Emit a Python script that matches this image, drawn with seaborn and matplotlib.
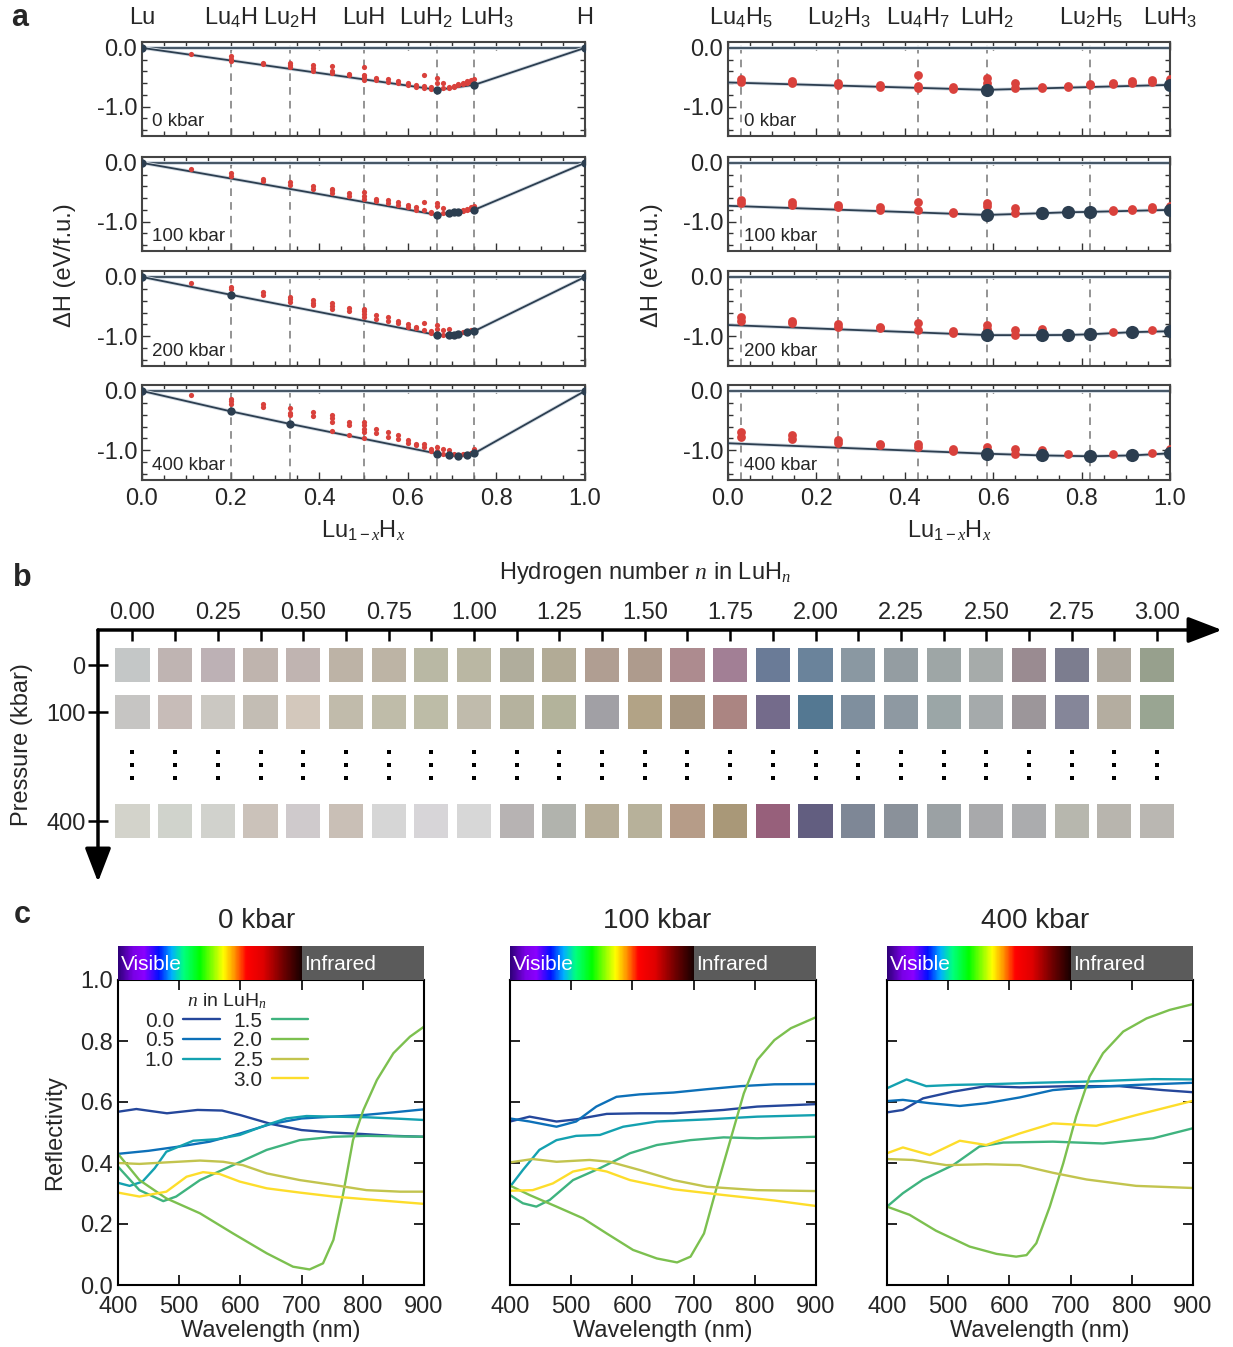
import numpy as np
import pandas as pd
import matplotlib
matplotlib.use("Agg")
import matplotlib.pyplot as plt
import seaborn as sns
from matplotlib.colors import LinearSegmentedColormap
from matplotlib.lines import Line2D

W, H = 1233, 1347
sns.set_theme(style="ticks")
plt.rcParams['font.family'] = ['Liberation Sans', 'DejaVu Sans']
plt.rcParams['mathtext.fontset'] = 'custom'
plt.rcParams['mathtext.rm'] = 'Liberation Sans'
plt.rcParams['mathtext.it'] = 'Liberation Serif:italic'
plt.rcParams['mathtext.bf'] = 'Liberation Sans:bold'
plt.rcParams['axes.unicode_minus'] = False

# ---------------- panel a data ----------------
pressures_a = ["0 kbar", "100 kbar", "200 kbar", "400 kbar"]
left_phase_x = [0.0, 0.2, 0.333, 0.5, 0.642, 0.779, 1.0]
left_phase_lab = ["Lu", "Lu$_4$H", "Lu$_2$H", "LuH", "LuH$_2$", "LuH$_3$", "H"]
left_dash_x = [0.2, 0.333, 0.5, 0.667, 0.75]
right_phase_x = [0.556, 0.6, 0.636, 0.667, 0.714, 0.75]
right_phase_lab = ["Lu$_4$H$_5$", "Lu$_2$H$_3$", "Lu$_4$H$_7$", "LuH$_2$", "Lu$_2$H$_5$", "LuH$_3$"]
right_tick_labels = ["0.0", "0.2", "0.4", "0.6", "0.8", "1.0"]

hull_x_0 = [0, 0.667, 0.75, 1.0]
hull_dh_0 = [0, -0.714, -0.63, 0]
hull_x_100 = [0, 0.667, 0.692, 0.704, 0.714, 0.75, 1.0]
hull_dh_100 = [0, -0.886, -0.857, -0.84, -0.834, -0.80, 0]
hull_x_200 = [0, 0.2, 0.667, 0.692, 0.704, 0.714, 0.733, 0.75, 1.0]
hull_dh_200 = [0, -0.30, -0.98, -0.98, -0.977, -0.966, -0.93, -0.914, 0]
hull_x_400 = [0, 0.2, 0.333, 0.667, 0.692, 0.714, 0.733, 0.75, 1.0]
hull_dh_400 = [0, -0.343, -0.554, -1.057, -1.086, -1.10, -1.086, -1.051, 0]

red_x_0 = [0.111, 0.2, 0.2, 0.2, 0.273, 0.273, 0.333, 0.333, 0.333, 0.385, 0.385, 0.385,
           0.429, 0.429, 0.429, 0.467, 0.467, 0.5, 0.5, 0.5, 0.5, 0.529, 0.529, 0.556, 0.556,
           0.579, 0.579, 0.6, 0.6, 0.619, 0.619, 0.636, 0.636, 0.636, 0.652, 0.652, 0.667, 0.667,
           0.68, 0.68, 0.692, 0.692, 0.704, 0.704, 0.714, 0.714, 0.724, 0.724, 0.733, 0.733,
           0.742, 0.742, 0.75]
red_dh_0 = [-0.10, -0.14, -0.19, -0.22, -0.25, -0.27, -0.25, -0.29, -0.33, -0.29, -0.34, -0.40,
            -0.30, -0.39, -0.43, -0.44, -0.46, -0.33, -0.46, -0.50, -0.54, -0.51, -0.54, -0.53, -0.58,
            -0.57, -0.60, -0.59, -0.63, -0.63, -0.66, -0.47, -0.65, -0.69, -0.67, -0.70, -0.51, -0.59,
            -0.60, -0.69, -0.67, -0.69, -0.65, -0.67, -0.61, -0.64, -0.60, -0.62, -0.57, -0.60,
            -0.55, -0.58, -0.53]
red_x_100 = [0.111, 0.2, 0.2, 0.273, 0.273, 0.333, 0.333, 0.385, 0.385, 0.429, 0.429, 0.429,
             0.467, 0.467, 0.5, 0.5, 0.5, 0.529, 0.529, 0.556, 0.556, 0.579, 0.579, 0.6, 0.6,
             0.619, 0.619, 0.636, 0.636, 0.652, 0.652, 0.667, 0.667, 0.68, 0.68, 0.724, 0.724,
             0.733, 0.733, 0.742, 0.742, 0.75]
red_dh_100 = [-0.10, -0.17, -0.22, -0.27, -0.31, -0.33, -0.38, -0.39, -0.45, -0.44, -0.47, -0.51,
              -0.51, -0.56, -0.50, -0.56, -0.61, -0.62, -0.65, -0.63, -0.69, -0.67, -0.71, -0.71, -0.75,
              -0.75, -0.80, -0.66, -0.81, -0.83, -0.86, -0.69, -0.74, -0.77, -0.86, -0.80, -0.82,
              -0.78, -0.80, -0.75, -0.78, -0.73]
red_x_200 = [0.111, 0.2, 0.2, 0.273, 0.273, 0.333, 0.333, 0.333, 0.385, 0.385, 0.385,
             0.429, 0.429, 0.429, 0.467, 0.467, 0.5, 0.5, 0.5, 0.5, 0.529, 0.529, 0.556, 0.556,
             0.579, 0.579, 0.6, 0.6, 0.619, 0.619, 0.636, 0.636, 0.652, 0.652, 0.667, 0.667,
             0.68, 0.68, 0.692, 0.724, 0.742]
red_dh_200 = [-0.10, -0.17, -0.20, -0.26, -0.30, -0.33, -0.37, -0.43, -0.39, -0.44, -0.47,
              -0.44, -0.49, -0.54, -0.53, -0.58, -0.54, -0.58, -0.62, -0.67, -0.64, -0.70, -0.68, -0.75,
              -0.74, -0.78, -0.79, -0.84, -0.84, -0.86, -0.77, -0.90, -0.91, -0.94, -0.81, -0.87,
              -0.89, -0.97, -0.87, -0.93, -0.89]
red_x_400 = [0.111, 0.2, 0.2, 0.2, 0.273, 0.273, 0.333, 0.333, 0.333, 0.385, 0.385,
             0.429, 0.429, 0.429, 0.429, 0.467, 0.467, 0.467, 0.5, 0.5, 0.5, 0.5, 0.5, 0.529, 0.529,
             0.556, 0.556, 0.579, 0.579, 0.6, 0.6, 0.619, 0.619, 0.636, 0.636, 0.652, 0.652,
             0.667, 0.667, 0.68, 0.68, 0.692, 0.704, 0.724, 0.742, 0.75]
red_dh_400 = [-0.07, -0.13, -0.17, -0.22, -0.22, -0.27, -0.29, -0.37, -0.40, -0.35, -0.42,
              -0.40, -0.46, -0.53, -0.67, -0.53, -0.58, -0.74, -0.53, -0.58, -0.64, -0.70, -0.80, -0.64, -0.71,
              -0.70, -0.78, -0.75, -0.81, -0.83, -0.87, -0.89, -0.91, -0.90, -0.95, -0.98, -1.01,
              -0.94, -1.01, -0.97, -1.07, -0.99, -1.07, -1.07, -1.05, -0.98]

hull_x = [hull_x_0, hull_x_100, hull_x_200, hull_x_400]
hull_dh = [hull_dh_0, hull_dh_100, hull_dh_200, hull_dh_400]
red_x = [red_x_0, red_x_100, red_x_200, red_x_400]
red_dh = [red_dh_0, red_dh_100, red_dh_200, red_dh_400]

# ---------------- panel b data ----------------
n_values = list(np.arange(0, 3.001, 0.125))
b_tick_labels = ["0.00", "0.25", "0.50", "0.75", "1.00", "1.25", "1.50", "1.75", "2.00",
                 "2.25", "2.50", "2.75", "3.00"]
b_row_labels = ["0", "100", "400"]
colors_0kbar = ["#c4c7c7", "#bfb4b2", "#bdb1b5", "#bfb4ae", "#c0b4b1", "#bdb3a6", "#bdb4a5",
                "#b9b8a4", "#bab7a3", "#b0ad9c", "#b2ab96", "#b09e92", "#ae9b8d", "#ad8b8f",
                "#a27f95", "#6a7b97", "#6a839b", "#8a98a2", "#949da2", "#9ea6a6", "#a6abaa",
                "#9a8b91", "#7c7d8f", "#aea89e", "#97a08d"]
colors_100kbar = ["#c6c5c3", "#c7bcb8", "#cbc8c2", "#c3bdb4", "#d3c8bc", "#c1bbab", "#bfbca9",
                  "#bdbca7", "#c0bbac", "#b5b29e", "#b3b39b", "#a1a0a5", "#b2a386", "#a79680",
                  "#ab8582", "#746b8b", "#547892", "#7f8f9e", "#8e99a2", "#9ba6a7", "#a5aaab",
                  "#9c969a", "#858699", "#b4ada0", "#99a592"]
colors_400kbar = ["#d3d3cb", "#d0d3cc", "#d1d2cd", "#cbc2ba", "#cfcacc", "#c9bfb6", "#d6d6d6",
                  "#d7d5d8", "#d7d7d7", "#b7b3b3", "#b1b3ad", "#b6ad98", "#b7b19a", "#b69c88",
                  "#a99878", "#97607b", "#625e80", "#7e8796", "#8a919a", "#9ba1a4", "#a8a9ab",
                  "#abacae", "#b7b7ae", "#b8b5ae", "#bab7b2"]

# ---------------- panel c data ----------------
c_titles = ["0 kbar", "100 kbar", "400 kbar"]
n_labels = ["0.0", "0.5", "1.0", "1.5", "2.0", "2.5", "3.0"]
n_colors = ["#25479b", "#0d70b8", "#14a1b0", "#3fb37f", "#7cc04f", "#c2c44e", "#fddd2b"]
spec_0kbar = {
    "0.0": ([400, 430, 480, 530, 570, 600, 650, 700, 750, 800, 850, 900],
            [0.568, 0.577, 0.563, 0.574, 0.572, 0.557, 0.528, 0.508, 0.50, 0.495, 0.489, 0.486]),
    "0.5": ([400, 450, 500, 550, 600, 650, 700, 750, 800, 850, 900],
            [0.43, 0.44, 0.454, 0.47, 0.497, 0.528, 0.546, 0.552, 0.557, 0.566, 0.576]),
    "1.0": ([400, 419, 440, 460, 479, 523, 561, 599, 643, 675, 708, 752, 806, 861, 900],
            [0.335, 0.325, 0.339, 0.383, 0.437, 0.473, 0.478, 0.492, 0.525, 0.546, 0.554, 0.552, 0.55, 0.545, 0.541]),
    "1.5": ([400, 435, 474, 495, 534, 588, 643, 697, 752, 806, 900],
            [0.388, 0.311, 0.275, 0.29, 0.344, 0.393, 0.443, 0.475, 0.486, 0.489, 0.486]),
    "2.0": ([400, 435, 479, 534, 588, 643, 686, 713, 735, 752, 768, 784, 801, 823, 850, 877, 900],
            [0.43, 0.344, 0.284, 0.235, 0.169, 0.104, 0.06, 0.051, 0.071, 0.148, 0.30, 0.475, 0.574, 0.672, 0.76, 0.814, 0.847]),
    "2.5": ([400, 435, 479, 534, 572, 604, 643, 697, 752, 806, 861, 900],
            [0.40, 0.397, 0.402, 0.408, 0.404, 0.393, 0.366, 0.344, 0.328, 0.311, 0.306, 0.306]),
    "3.0": ([400, 435, 479, 512, 539, 566, 599, 643, 697, 752, 806, 900],
            [0.303, 0.29, 0.306, 0.355, 0.37, 0.364, 0.339, 0.317, 0.303, 0.29, 0.281, 0.266]),
}
spec_100kbar = {
    "0.0": ([400, 432, 476, 508, 558, 612, 667, 749, 804, 900],
            [0.536, 0.552, 0.536, 0.543, 0.561, 0.563, 0.563, 0.574, 0.585, 0.593]),
    "0.5": ([400, 432, 476, 508, 541, 574, 612, 667, 722, 777, 832, 900],
            [0.546, 0.536, 0.519, 0.536, 0.585, 0.617, 0.625, 0.631, 0.642, 0.652, 0.658, 0.659]),
    "1.0": ([400, 421, 448, 476, 508, 547, 585, 640, 722, 804, 900],
            [0.322, 0.377, 0.443, 0.475, 0.489, 0.492, 0.519, 0.536, 0.543, 0.552, 0.557]),
    "1.5": ([400, 421, 443, 465, 503, 547, 596, 640, 695, 749, 804, 900],
            [0.295, 0.268, 0.257, 0.279, 0.344, 0.383, 0.432, 0.459, 0.475, 0.484, 0.481, 0.486]),
    "2.0": ([400, 432, 476, 519, 558, 601, 640, 673, 695, 717, 738, 760, 782, 804, 832, 859, 900],
            [0.326, 0.295, 0.257, 0.219, 0.169, 0.115, 0.087, 0.074, 0.093, 0.169, 0.322, 0.475, 0.628, 0.738, 0.803, 0.842, 0.878]),
    "2.5": ([400, 437, 476, 530, 563, 612, 667, 722, 804, 900],
            [0.402, 0.413, 0.404, 0.41, 0.404, 0.377, 0.344, 0.322, 0.311, 0.308]),
    "3.0": ([400, 437, 470, 503, 530, 558, 596, 667, 749, 832, 900],
            [0.309, 0.311, 0.333, 0.372, 0.383, 0.372, 0.344, 0.314, 0.295, 0.277, 0.259]),
}
spec_400kbar = {
    "0.0": ([400, 426, 459, 508, 562, 617, 698, 780, 851, 900],
            [0.566, 0.574, 0.612, 0.634, 0.652, 0.648, 0.652, 0.652, 0.639, 0.632]),
    "0.5": ([400, 426, 470, 519, 562, 617, 671, 726, 807, 900],
            [0.603, 0.607, 0.596, 0.587, 0.596, 0.615, 0.639, 0.648, 0.656, 0.663]),
    "1.0": ([400, 432, 464, 508, 562, 644, 726, 835, 900],
            [0.645, 0.674, 0.652, 0.656, 0.658, 0.663, 0.667, 0.675, 0.674]),
    "1.5": ([400, 426, 459, 508, 551, 590, 671, 753, 835, 900],
            [0.257, 0.301, 0.346, 0.393, 0.454, 0.467, 0.47, 0.464, 0.481, 0.514]),
    "2.0": ([400, 437, 480, 535, 579, 611, 628, 644, 666, 688, 709, 731, 753, 786, 824, 862, 900],
            [0.257, 0.23, 0.178, 0.126, 0.102, 0.093, 0.098, 0.137, 0.257, 0.399, 0.552, 0.683, 0.76, 0.831, 0.874, 0.902, 0.921]),
    "2.5": ([400, 442, 497, 562, 617, 671, 726, 807, 900],
            [0.413, 0.41, 0.393, 0.396, 0.393, 0.368, 0.346, 0.325, 0.318]),
    "3.0": ([400, 426, 470, 519, 562, 617, 671, 742, 807, 900],
            [0.432, 0.451, 0.426, 0.473, 0.459, 0.497, 0.53, 0.522, 0.557, 0.604]),
}
spectra = [spec_0kbar, spec_100kbar, spec_400kbar]

spectrum_stops = [(0.0, "#30007a"), (0.08, "#7a00e6"), (0.14, "#8a00ff"), (0.22, "#0010ff"),
                  (0.29, "#00b0ff"), (0.355, "#00ff80"), (0.445, "#00ff00"), (0.573, "#ffff00"),
                  (0.636, "#ff9000"), (0.70, "#ff0000"), (0.79, "#e00000"), (0.9, "#700000"),
                  (1.0, "#1a0000")]

# ---------------- figure ----------------
fig = plt.figure(figsize=(W / 100, H / 100), dpi=100)


def add_ax(x0, y0, x1, y1):
    return fig.add_axes([x0 / W, 1 - y1 / H, (x1 - x0) / W, (y1 - y0) / H])


RED = "#d9413c"
DARK = "#2c3e50"
HALO = "#d3dbe3"
TICK_FS = 17

rows_px = [(42, 136), (157, 251), (271, 366), (385, 480)]
for side in range(2):
    x0, x1 = (142, 585) if side == 0 else (728, 1170)
    for i, (y0, y1) in enumerate(rows_px):
        ax = add_ax(x0, y0, x1, y1)
        if side == 0:
            ax.set_xlim(0, 1)
            ax.set_xticks(np.arange(0, 1.001, 0.2))
            ax.set_xticklabels(["0.0", "0.2", "0.4", "0.6", "0.8", "1.0"])
            ax.set_xticks(np.arange(0, 1.001, 0.05), minor=True)
            dashes = left_dash_x
            s_red, s_dark = 14, 36
        else:
            ax.set_xlim(0.55, 0.75)
            ax.set_xticks(np.linspace(0.55, 0.75, 6))
            ax.set_xticklabels(right_tick_labels)
            ax.set_xticks(np.linspace(0.55, 0.75, 21), minor=True)
            dashes = right_phase_x[:-1]
            s_red, s_dark = 40, 90
        ax.set_ylim(-1.5, 0.1)
        ax.set_yticks([0, -1])
        ax.set_yticklabels(["0.0", "-1.0"])
        ax.set_yticks(np.arange(-1.4, 0.05, 0.2), minor=True)
        ax.tick_params(which='both', direction='in', top=True, right=True,
                       labelsize=TICK_FS, color='#333333', width=1.0)
        ax.tick_params(which='major', length=6)
        ax.tick_params(which='minor', length=3.5)
        ax.tick_params(axis='x', pad=6)
        if i < 3:
            ax.tick_params(axis='x', labelbottom=False)
        for sp in ax.spines.values():
            sp.set_color('#444444')
            sp.set_linewidth(1.5)
        for xd in dashes:
            ax.axvline(xd, color='#777777', lw=1.1, ls=(0, (5, 4)), zorder=1)
        ax.axhline(0, color=HALO, lw=2.8, zorder=2)
        ax.axhline(0, color=DARK, lw=1.2, zorder=2)
        ax.plot(hull_x[i], hull_dh[i], color=HALO, lw=2.6, zorder=2)
        ax.plot(hull_x[i], hull_dh[i], color=DARK, lw=1.3, zorder=3)
        sns.scatterplot(x=red_x[i], y=red_dh[i], ax=ax, color=RED, s=s_red,
                        linewidth=0, zorder=4, legend=False)
        sns.scatterplot(x=hull_x[i], y=hull_dh[i], ax=ax, color=DARK, s=s_dark,
                        linewidth=0, zorder=5, legend=False)
        ax.text(0.023 if side == 0 else 0.036, 0.15, pressures_a[i], transform=ax.transAxes,
                fontsize=13.5, ha='left', va='center')
        if i == 0:
            labs = left_phase_lab if side == 0 else right_phase_lab
            xs = left_phase_x if side == 0 else right_phase_x
            for xv, lab in zip(xs, labs):
                ax.text(xv, 1.26, lab, transform=ax.get_xaxis_transform(), ha='center',
                        va='center', fontsize=TICK_FS)
        if i == 3:
            ax.set_xlabel("Lu$_{1\u2212x}$H$_x$", fontsize=TICK_FS, labelpad=6)

fig.text(65 / W, 1 - 265 / H, "\u0394H (eV/f.u.)", rotation=90, ha='center', va='center',
         fontsize=TICK_FS)
fig.text(652 / W, 1 - 265 / H, "\u0394H (eV/f.u.)", rotation=90, ha='center', va='center',
         fontsize=TICK_FS)

# ---------------- panel b ----------------
axb = add_ax(98, 630, 1222, 882)
axb.set_xlim(-0.101, 3.19)
axb.set_ylim(4.617, -0.745)
row_y = [0.0, 1.0, 3.32]
for ry, cols in zip(row_y, [colors_0kbar, colors_100kbar, colors_400kbar]):
    axb.bar(n_values, 0.72, bottom=ry - 0.36, width=0.1, color=cols, linewidth=0)
for dy in [1.85, 2.13, 2.40]:
    axb.scatter(n_values, [dy] * len(n_values), marker='s', s=9, color='black', linewidths=0)
for sp in axb.spines.values():
    sp.set_visible(False)
axb.xaxis.tick_top()
axb.set_xticks(np.arange(0, 3.001, 0.25))
axb.set_xticklabels(b_tick_labels)
axb.set_xticks(np.arange(0, 3.001, 0.125), minor=True)
axb.tick_params(axis='x', which='both', direction='in', length=8, width=1.8, pad=4,
                labelsize=TICK_FS, color='black')
axb.set_yticks(row_y)
axb.set_yticklabels(b_row_labels)
axb.tick_params(axis='y', which='both', direction='inout', length=14, width=1.8, pad=2,
                labelsize=TICK_FS, color='black')
arrow_kw = dict(arrowstyle='-|>,head_length=1.3,head_width=0.5', lw=2.5, color='black',
                mutation_scale=16, shrinkA=0, shrinkB=0)
axb.annotate('', xy=(1, 1), xytext=(0, 1), xycoords='axes fraction', arrowprops=arrow_kw)
axb.annotate('', xy=(0, 0), xytext=(0, 1), xycoords='axes fraction', arrowprops=arrow_kw)
fig.text(645 / W, 1 - 573 / H, "Hydrogen number $n$ in LuH$_n$", ha='center', va='center',
         fontsize=TICK_FS)
fig.text(22 / W, 1 - 745 / H, "Pressure (kbar)", rotation=90, ha='center', va='center',
         fontsize=TICK_FS)

# ---------------- panel c ----------------
cmap = LinearSegmentedColormap.from_list("spec", spectrum_stops)
palette = dict(zip(n_labels, n_colors))
c_axes_px = [(118, 424), (510, 816), (887, 1193)]
title_x = [257, 657, 1035]
for k, (x0, x1) in enumerate(c_axes_px):
    ax = add_ax(x0, 980, x1, 1285)
    spec = spectra[k]
    df = pd.DataFrame([(n, w, r) for n in n_labels for w, r in zip(*spec[n])],
                      columns=["n", "wl", "R"])
    sns.lineplot(data=df, x="wl", y="R", hue="n", palette=palette, hue_order=n_labels,
                 estimator=None, sort=False, lw=1.7, legend=False, ax=ax)
    ax.set_xlim(400, 900)
    ax.set_ylim(0, 1)
    ax.set_xticks(np.arange(400, 901, 100))
    ax.set_yticks(np.arange(0, 1.01, 0.2))
    ax.set_yticklabels(["0.0", "0.2", "0.4", "0.6", "0.8", "1.0"])
    ax.tick_params(which='both', direction='in', top=True, right=True, length=7, width=1.2,
                   labelsize=TICK_FS, color='black')
    ax.tick_params(axis='x', pad=8)
    if k > 0:
        ax.tick_params(axis='y', labelleft=False)
        ax.set_ylabel("")
    else:
        ax.set_ylabel("Reflectivity", fontsize=TICK_FS, labelpad=10)
    ax.set_xlabel("Wavelength (nm)", fontsize=TICK_FS, labelpad=1)
    for sp in ax.spines.values():
        sp.set_color('black')
        sp.set_linewidth(1.5)
    # spectrum bar
    axs = add_ax(x0, 946, x1, 980)
    axs.imshow(np.linspace(0, 1, 300)[None, :], cmap=cmap, aspect='auto',
               extent=[400, 700, 0, 1])
    axs.axvspan(700, 900, color='#5b5b5b', lw=0)
    axs.set_xlim(400, 900)
    axs.set_ylim(0, 1)
    axs.axis('off')
    axs.text(404, 0.45, "Visible", color='white', fontsize=15, va='center', ha='left')
    axs.text(704, 0.45, "Infrared", color='white', fontsize=15, va='center', ha='left')
    fig.text(title_x[k] / W, 1 - 921 / H, c_titles[k], ha='center', va='center', fontsize=20)
    if k == 0:
        hs = [Line2D([], [], color=palette[n], lw=1.7) for n in n_labels]
        blank = Line2D([], [], alpha=0)
        handles = hs[:3] + [blank] + hs[3:]
        labels = n_labels[:3] + [""] + n_labels[3:]
        ax.legend(handles, labels, ncol=2, markerfirst=False, frameon=False,
                  loc='upper left', bbox_to_anchor=(0.06, 0.99), borderaxespad=0,
                  handlelength=1.75, handletextpad=0.45, columnspacing=0.65,
                  labelspacing=0.03, fontsize=15, title="$n$ in LuH$_n$", title_fontsize=14)

# panel letters
for lab, (px, py) in zip(["a", "b", "c"], [(20, 18), (22, 578), (22, 915)]):
    fig.text(px / W, 1 - py / H, lab, fontsize=22, fontweight='bold', ha='center', va='center')

fig.savefig("out.png", dpi=100)
